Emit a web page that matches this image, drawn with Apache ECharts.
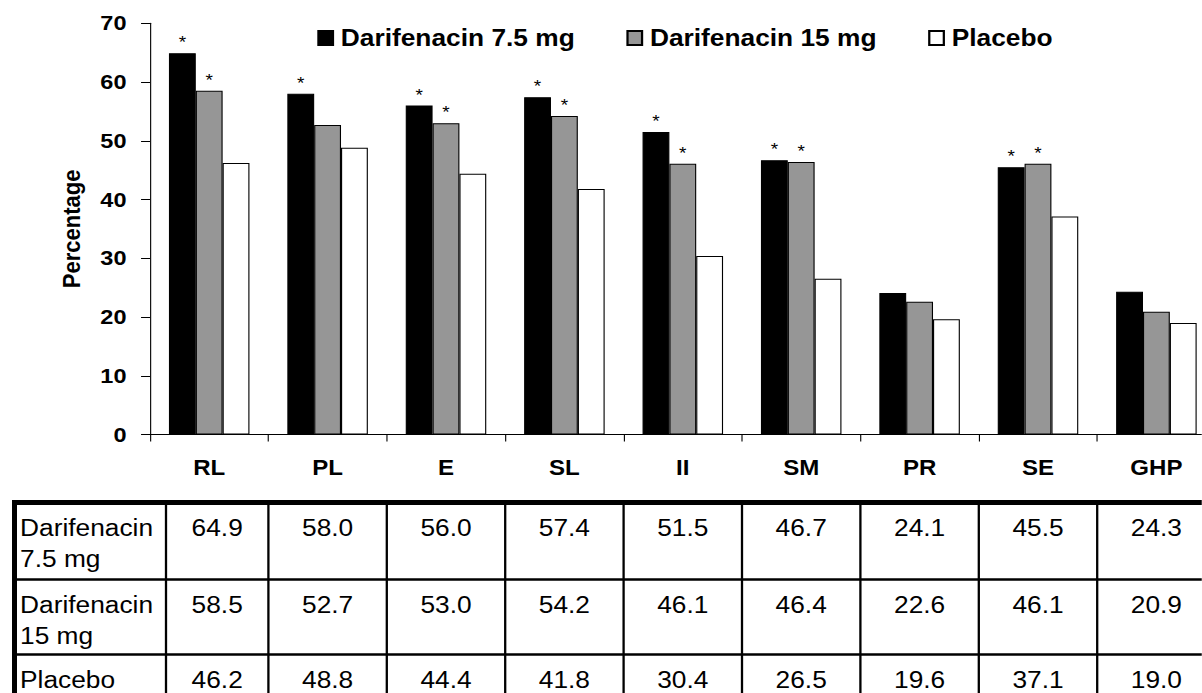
<!DOCTYPE html>
<html><head><meta charset="utf-8">
<script src="https://cdn.jsdelivr.net/npm/echarts@6/dist/echarts.min.js"></script>
<style>
html,body{margin:0;padding:0;background:#fff;overflow:hidden}
#wrap{width:1202px;height:693px;overflow:hidden;position:relative}
#c{width:1073px;height:693px;transform:scaleX(1.12);transform-origin:0 0}
</style>
</head><body><div id="wrap"><div id="c"></div></div>
<script>
// ---- data ----
const categories = ['RL', 'PL', 'E', 'SL', 'II', 'SM', 'PR', 'SE', 'GHP'];
const seriesNames = ['Darifenacin 7.5 mg', 'Darifenacin 15 mg', 'Placebo'];
const dar75 = [64.9, 58.0, 56.0, 57.4, 51.5, 46.7, 24.1, 45.5, 24.3];
const dar15 = [58.5, 52.7, 53.0, 54.2, 46.1, 46.4, 22.6, 46.1, 20.9];
const placebo = [46.2, 48.8, 44.4, 41.8, 30.4, 26.5, 19.6, 37.1, 19.0];
const sig75 = [true, true, true, true, true, true, false, true, false];
const sig15 = [true, false, true, true, true, true, false, true, false];
const sigPlacebo = [false, false, false, false, false, false, false, false, false];
const tableRowLabels = [['Darifenacin', '7.5 mg'], ['Darifenacin', '15 mg'], ['Placebo']];
const yMin = 0, yMax = 70, yStep = 10;
const yName = 'Percentage';

// ---- layout helpers ----
const S = 1.12;                 // horizontal stretch of the whole picture
const vx = r => r / S;          // real x -> virtual x
const FONT = "'Liberation Sans', Arial, Helvetica, sans-serif";

const chart = echarts.init(document.getElementById('c'), null, {renderer: 'svg'});

const colors = ['#000000', '#969696', '#ffffff'];
const values = [dar75, dar15, placebo];
const sigs = [sig75, sig15, sigPlacebo];

const series = seriesNames.map((name, k) => ({
  name: name,
  type: 'bar',
  data: values[k],
  barGap: '0%',
  barCategoryGap: '32%',
  itemStyle: {color: colors[k], borderColor: '#000', borderWidth: 1},
  label: {
    show: true,
    position: 'top',
    distance: 2,
    fontSize: 17,
    fontFamily: FONT,
    color: '#000',
    formatter: p => sigs[k][p.dataIndex] ? '*' : ''
  },
  emphasis: {disabled: true},
  animation: false
}));

chart.setOption({
  animation: false,
  backgroundColor: '#fff',
  textStyle: {fontFamily: FONT},
  grid: {left: vx(150), right: 1073 - vx(1215.6), top: 23.3, bottom: 693 - 434.5,
         containLabel: false, outerBoundsMode: 'none'},
  legend: {
    left: vx(311.7), top: 21,
    itemGap: 46, itemWidth: 13, itemHeight: 14,
    icon: 'rect',
    selectedMode: false,
    textStyle: {fontSize: 23.5, fontWeight: 'bold', color: '#000', fontFamily: FONT, padding: [0, 0, 0, 2]},
    data: seriesNames
  },
  xAxis: {
    type: 'category',
    data: categories,
    axisLine: {lineStyle: {color: '#000', width: 1}},
    axisTick: {show: true, length: 7, inside: false, lineStyle: {color: '#000'}},
    axisLabel: {fontSize: 21.5, fontWeight: 'bold', color: '#000', margin: 22, fontFamily: FONT},
    splitLine: {show: false}
  },
  yAxis: {
    type: 'value',
    min: yMin, max: yMax, interval: yStep,
    name: yName,
    nameLocation: 'middle',
    nameRotate: 90,
    nameGap: 59,
    nameTextStyle: {fontSize: 22, fontWeight: 'bold', color: '#000', fontFamily: FONT},
    axisLine: {show: true, lineStyle: {color: '#000', width: 1}},
    axisTick: {show: true, length: 8, inside: false, lineStyle: {color: '#000'}},
    axisLabel: {fontSize: 21, fontWeight: 'bold', color: '#000', margin: 21, fontFamily: FONT},
    splitLine: {show: false}
  },
  series: series
});

// ---- data table under the chart, aligned on the category axis ----
const c0 = chart.convertToPixel({xAxisIndex: 0}, categories[0]);
const c1 = chart.convertToPixel({xAxisIndex: 0}, categories[1]);
const band = c1 - c0;
const bounds = [vx(166)];
for (let i = 0; i < categories.length; i++) bounds.push(c0 + band * (i + 0.5));

const rowTops = [502.5, 579.5, 654.5];
const rowBottom = 740;
const tableLeft = vx(12);
const tableRight = 1100;
const graphics = [];
// thick top and left borders
graphics.push({type: 'rect', shape: {x: tableLeft, y: 500, width: tableRight - tableLeft, height: 5}, style: {fill: '#000'}, silent: true});
graphics.push({type: 'rect', shape: {x: tableLeft, y: 500, width: vx(5), height: rowBottom - 500}, style: {fill: '#000'}, silent: true});
// horizontal row lines
rowTops.slice(1).forEach(y => graphics.push({type: 'line', shape: {x1: tableLeft, y1: y, x2: tableRight, y2: y},
  style: {stroke: '#000', lineWidth: 2.3}, silent: true}));
// vertical column lines
bounds.forEach(x => graphics.push({type: 'line', shape: {x1: x, y1: 505, x2: x, y2: rowBottom},
  style: {stroke: '#000', lineWidth: 2.3 / S}, silent: true}));
// row headers and values
rowTops.forEach((top, r) => {
  tableRowLabels[r].forEach((txt, j) => graphics.push({
    type: 'text', x: vx(20), y: top + 25 + j * 31, silent: true,
    style: {text: txt, fontSize: 23.5, fontFamily: FONT, fill: '#000', textAlign: 'left', textVerticalAlign: 'middle'}
  }));
  values[r].forEach((v, i) => graphics.push({
    type: 'text', x: (bounds[i] + bounds[i + 1]) / 2, y: top + 25, silent: true,
    style: {text: v.toFixed(1), fontSize: 23.5, fontFamily: FONT, fill: '#000', textAlign: 'center', textVerticalAlign: 'middle'}
  }));
});
chart.setOption({graphic: {elements: graphics}});
</script>
</body></html>
